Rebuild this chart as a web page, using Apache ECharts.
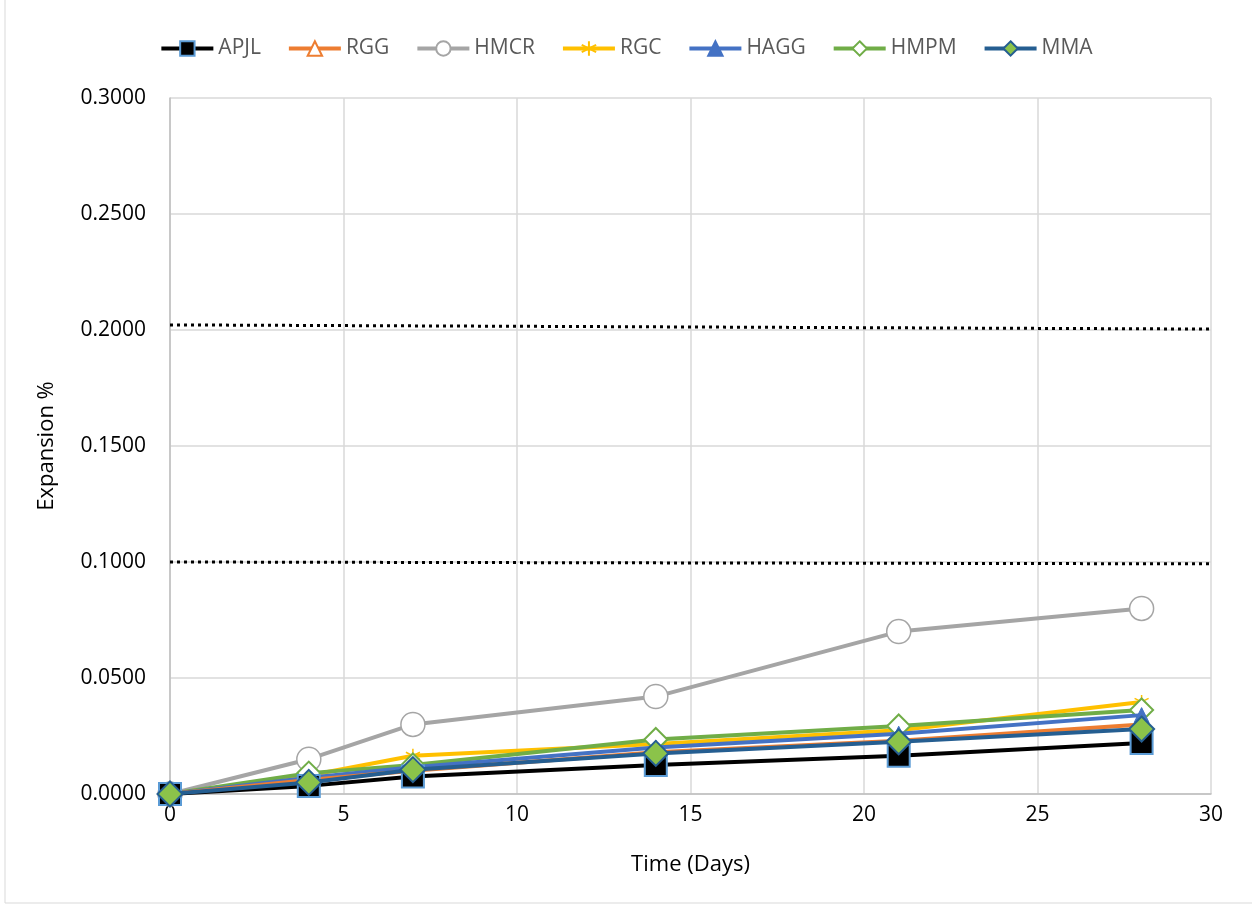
<!DOCTYPE html>
<html>
<head>
<meta charset="utf-8">
<script src="https://cdn.jsdelivr.net/npm/echarts@6/dist/echarts.min.js"></script>
<style>
html,body{margin:0;padding:0;background:#fff;}
#chart{width:1252px;height:907px;}
</style>
</head>
<body>
<div id="chart"></div>
<script>
const days = [0, 4, 7, 14, 21, 28];
const APJL = [0, 0.0035, 0.0075, 0.0125, 0.0165, 0.0220];
const RGG  = [0, 0.0060, 0.0100, 0.0180, 0.0230, 0.0300];
const HMCR = [0, 0.0150, 0.0300, 0.0420, 0.0700, 0.0800];
const RGC  = [0, 0.0080, 0.0165, 0.0215, 0.0275, 0.0397];
const HAGG = [0, 0.0070, 0.0115, 0.0200, 0.0260, 0.0340];
const HMPM = [0, 0.0090, 0.0125, 0.0235, 0.0293, 0.0362];
const MMA  = [0, 0.0050, 0.0105, 0.0175, 0.0225, 0.0280];
const limitX = [0, 30];
const limitUpper = [0.2022, 0.2004];
const limitLower = [0.1000, 0.0992];
const yTicks = [0, 0.05, 0.10, 0.15, 0.20, 0.25, 0.30];
const xTicks = [0, 5, 10, 15, 20, 25, 30];

const FONT = 'Open Sans';
const pairs = (xs, ys) => xs.map((x, i) => [x, ys[i]]);
const star = 'path://M0,-10L0,10M-8.66,-5L8.66,5M-8.66,5L8.66,-5';

function s(name, data, color, symbol, size, fill, border, bw, z) {
  return {
    name, type: 'line', data: pairs(days, data), z: z,
    symbol, symbolSize: size, showSymbol: true,
    lineStyle: { color, width: 4 },
    itemStyle: { color: fill, borderColor: border, borderWidth: bw },
    emphasis: { disabled: true }
  };
}

const chart = echarts.init(document.getElementById('chart'), null, { renderer: 'canvas' });
chart.setOption({
  animation: false,
  backgroundColor: '#ffffff',
  textStyle: { fontFamily: FONT },
  graphic: [{
    type: 'rect', shape: { x: 5, y: -5, width: 1260, height: 908 },
    style: { fill: 'none', stroke: '#D9D9D9', lineWidth: 1 }, silent: true, z: -10
  }],
  legend: {
    top: 33, left: 'center', itemGap: 26, itemWidth: 52, itemHeight: 18,
    lineStyle: { width: 4 },
    textStyle: { fontFamily: FONT, fontSize: 21, color: '#595959' },
    data: ['APJL', 'RGG', 'HMCR', 'RGC', 'HAGG', 'HMPM', 'MMA']
  },
  grid: { left: 170, right: 41, top: 98, bottom: 113, containLabel: false },
  xAxis: {
    type: 'value', min: 0, max: 30, interval: 5,
    name: 'Time (Days)', nameLocation: 'middle', nameGap: 60,
    nameTextStyle: { fontFamily: FONT, fontSize: 22, color: '#000' },
    axisLine: { show: true, lineStyle: { color: '#BFBFBF', width: 1.5 } },
    axisTick: { show: false },
    axisLabel: { fontFamily: FONT, fontSize: 21, color: '#000', margin: 11,
      formatter: v => xTicks.includes(v) ? String(v) : '' },
    splitLine: { show: true, lineStyle: { color: '#D9D9D9', width: 1.5 } }
  },
  yAxis: {
    type: 'value', min: 0, max: 0.3, interval: 0.05,
    name: 'Expansion %', nameLocation: 'middle', nameGap: 112,
    nameTextStyle: { fontFamily: FONT, fontSize: 22, color: '#000' },
    axisLine: { show: true, lineStyle: { color: '#BFBFBF', width: 1.5 } },
    axisTick: { show: false },
    axisLabel: { fontFamily: FONT, fontSize: 21, color: '#000', margin: 24,
      formatter: v => v.toFixed(4) },
    splitLine: { show: true, lineStyle: { color: '#D9D9D9', width: 1.5 } }
  },
  series: [
    s('HMCR', HMCR, '#A5A5A5', 'circle', 24, '#ffffff', '#A5A5A5', 1.5, 2),
    s('RGC', RGC, '#FFC000', star, 14, '#FFC000', '#FFC000', 1.5, 3),
    s('HMPM', HMPM, '#70AD47', 'diamond', 23, '#ffffff', '#70AD47', 2, 4),
    s('HAGG', HAGG, '#4472C4', 'triangle', 15, '#4472C4', '#4472C4', 1, 5),
    s('RGG', RGG, '#ED7D31', 'triangle', 15, '#ffffff', '#ED7D31', 1.5, 6),
    s('APJL', APJL, '#000000', 'rect', 22, '#000000', '#5B9BD5', 2, 7),
    s('MMA', MMA, '#255E91', 'diamond', 25, '#8BC34A', '#255E91', 2, 8),
    {
      name: 'limit1', type: 'line', data: pairs(limitX, limitUpper), symbol: 'none', z: 1,
      lineStyle: { color: '#000', width: 3, type: [3, 4], cap: 'butt' }, silent: true
    },
    {
      name: 'limit2', type: 'line', data: pairs(limitX, limitLower), symbol: 'none', z: 1,
      lineStyle: { color: '#000', width: 3, type: [3, 4], cap: 'butt' }, silent: true
    }
  ]
});
</script>
</body>
</html>
